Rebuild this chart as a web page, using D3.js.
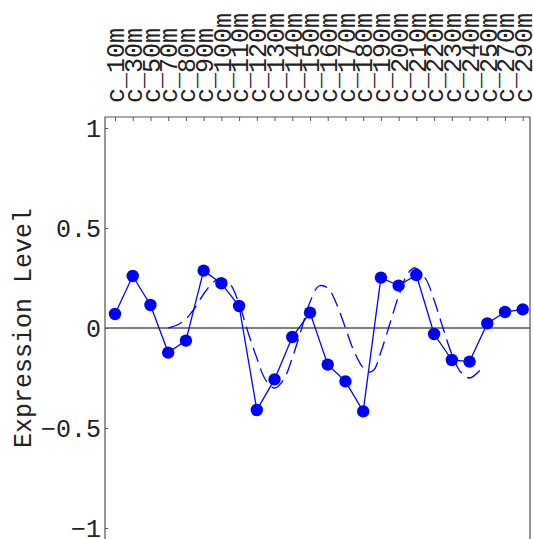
<!DOCTYPE html>
<html>
<head>
<meta charset="utf-8">
<script src="https://cdn.jsdelivr.net/npm/d3@7"></script>
<style>
  html, body { margin: 0; padding: 0; background: #fff; }
  svg { display: block; }
  text { font-family: "Liberation Mono", "DejaVu Sans Mono", monospace; fill: #222; }
</style>
</head>
<body>
<svg id="chart" width="533" height="539"></svg>
<script>
// ---- data ----
const categories = ["c_10m","c_30m","c_50m","c_70m","c_80m","c_90m","c_100m","c_110m",
  "c_120m","c_130m","c_140m","c_150m","c_160m","c_170m","c_180m","c_190m","c_200m",
  "c_210m","c_220m","c_230m","c_240m","c_250m","c_270m","c_290m"];
const expression = [0.07, 0.26, 0.115, -0.123, -0.063, 0.287, 0.223, 0.11, -0.41, -0.257,
  -0.045, 0.077, -0.183, -0.267, -0.417, 0.252, 0.212, 0.265, -0.03, -0.16, -0.168,
  0.023, 0.08, 0.093];
// fitted (dashed) curve, sampled along the category index
const fitIndex = [3.0, 3.5, 4.0, 4.5, 5.0, 5.5, 6.0, 6.5, 7.0, 7.5, 8.0, 8.5, 9.0, 9.5,
  10.0, 10.5, 11.0, 11.5, 12.0, 12.5, 13.0, 13.5, 14.0, 14.3, 14.6, 15.0, 15.5, 16.0,
  16.5, 16.9, 17.5, 18.0, 18.5, 19.0, 19.5, 20.0, 20.6];
const fitValue = [0.00, 0.015, 0.045, 0.10, 0.17, 0.225, 0.25, 0.22, 0.12, -0.02, -0.15,
  -0.26, -0.30, -0.26, -0.15, -0.01, 0.13, 0.21, 0.20, 0.12, 0.0, -0.12, -0.20, -0.22,
  -0.21, -0.12, 0.02, 0.16, 0.27, 0.30, 0.25, 0.14, 0.0, -0.13, -0.22, -0.25, -0.21];
const yTicks = [-1, -0.5, 0, 0.5, 1];
const yTickLabels = ["-1", "-0.5", "0", "0.5", "1"];
const yTitle = "Expression Level";

// ---- layout ----
const svg = d3.select("#chart");
const plotL = 105, plotR = 530, plotT = 117, plotB = 539;
const x = d3.scaleLinear().domain([-0.564, 23.41]).range([plotL, plotR]);
const y = d3.scaleLinear().domain([-1.055, 1.055]).range([plotB, plotT]);
const frameColor = "#555";

// zero line
svg.append("line")
  .attr("x1", plotL).attr("x2", plotR)
  .attr("y1", y(0)).attr("y2", y(0))
  .attr("stroke", "#000").attr("stroke-width", 1.2);

// frame
svg.append("path")
  .attr("d", `M${plotL},${plotB}V${plotT}H${plotR}V${plotB}`)
  .attr("fill", "none").attr("stroke", frameColor).attr("stroke-width", 1.2);

// left axis (inward ticks)
const yAxis = d3.axisLeft(y).tickValues(yTicks)
  .tickSizeInner(-3).tickSizeOuter(0)
  .tickFormat((d, i) => yTickLabels[i]);
const gy = svg.append("g").attr("transform", `translate(${plotL},0)`).call(yAxis);
gy.select(".domain").remove();
gy.selectAll(".tick line").attr("stroke", frameColor);
gy.selectAll(".tick text")
  .attr("x", -4).attr("dy", "0.35em")
  .style("font-size", "25px").style("font-family", "Liberation Mono, monospace")
  .attr("fill", "#222").text((d, i) => yTickLabels[i].replace("-", "\u2212"));

// top axis (category labels, rotated)
const topAxis = d3.axisTop(x).tickValues(d3.range(categories.length))
  .tickSizeInner(-4).tickSizeOuter(0)
  .tickFormat(i => categories[i]);
const gx = svg.append("g").attr("transform", `translate(0,${plotT})`).call(topAxis);
gx.select(".domain").remove();
gx.selectAll(".tick line").attr("stroke", frameColor);
gx.selectAll(".tick text")
  .attr("transform", "translate(0,-14) rotate(-90)")
  .attr("x", 0).attr("y", 0).attr("dy", "0.35em")
  .attr("text-anchor", "start")
  .style("font-size", "25px").style("font-family", "Liberation Mono, monospace")
  .attr("fill", "#222");

// y title
svg.append("text")
  .attr("transform", `translate(22,${(plotT + plotB) / 2}) rotate(-90)`)
  .attr("text-anchor", "middle").attr("dy", "0.35em")
  .style("font-size", "25px")
  .text(yTitle);

// dashed fit curve
const fitData = fitIndex.map((d, i) => [d, fitValue[i]]);
svg.append("path")
  .datum(fitData)
  .attr("d", d3.line().x(d => x(d[0])).y(d => y(d[1])).curve(d3.curveCatmullRom))
  .attr("fill", "none").attr("stroke", "#0000ff").attr("stroke-width", 1.3)
  .attr("stroke-dasharray", "15,7");

// data line
const data = expression.map((v, i) => [i, v]);
svg.append("path")
  .datum(data)
  .attr("d", d3.line().x(d => x(d[0])).y(d => y(d[1])))
  .attr("fill", "none").attr("stroke", "#0000ff").attr("stroke-width", 1.3);

svg.selectAll("circle.pt").data(data).enter().append("circle")
  .attr("class", "pt")
  .attr("cx", d => x(d[0])).attr("cy", d => y(d[1]))
  .attr("r", 6.2).attr("fill", "#0000ff");
</script>
</body>
</html>
